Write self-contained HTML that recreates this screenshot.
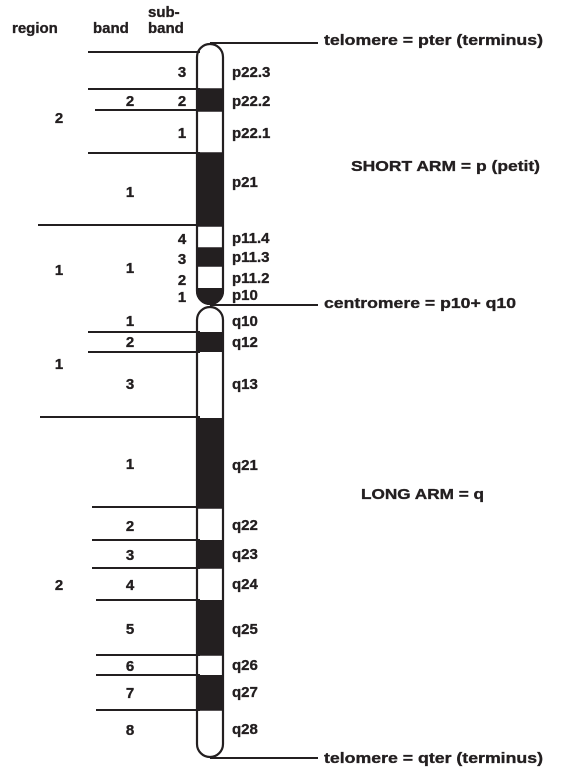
<!DOCTYPE html>
<html><head><meta charset="utf-8"><style>
html,body{margin:0;padding:0;background:#fff;width:569px;height:777px;overflow:hidden}
text{font-family:"Liberation Sans",Arial,sans-serif;font-weight:700;font-size:15px;fill:#231f20;stroke:#231f20;stroke-width:0.35}
</style></head><body>
<svg width="569" height="777" viewBox="0 0 569 777" xmlns="http://www.w3.org/2000/svg">
<defs>
<clipPath id="pc"><rect x="196" y="43" width="28" height="262" rx="14"/></clipPath>
<clipPath id="qc"><rect x="196" y="306" width="28" height="452" rx="14"/></clipPath>
</defs>
<g>
<text x="12" y="33">region</text>
<text x="93" y="33">band</text>
<text x="148" y="17">sub-</text>
<text x="148" y="33">band</text>
</g>
<g stroke="#231f20" stroke-width="2">
<line x1="88" y1="52" x2="200" y2="52"/>
<line x1="88" y1="89" x2="200" y2="89"/>
<line x1="95" y1="110" x2="200" y2="110"/>
<line x1="88" y1="153" x2="200" y2="153"/>
<line x1="38" y1="225" x2="200" y2="225"/>
<line x1="88" y1="332" x2="200" y2="332"/>
<line x1="88" y1="352" x2="200" y2="352"/>
<line x1="40" y1="417" x2="200" y2="417"/>
<line x1="92" y1="507" x2="200" y2="507"/>
<line x1="92" y1="540" x2="200" y2="540"/>
<line x1="92" y1="568" x2="200" y2="568"/>
<line x1="96" y1="600" x2="200" y2="600"/>
<line x1="96" y1="655" x2="200" y2="655"/>
<line x1="96" y1="675" x2="200" y2="675"/>
<line x1="96" y1="710" x2="200" y2="710"/>
<line x1="210" y1="43" x2="318" y2="43"/>
<line x1="210" y1="305" x2="318" y2="305"/>
<line x1="210" y1="758" x2="318" y2="758"/>
</g>
<g>
<g clip-path="url(#pc)" fill="#231f20">
<rect x="196" y="89" width="28" height="22"/>
<rect x="196" y="153" width="28" height="73"/>
<rect x="196" y="248" width="28" height="18"/>
<rect x="196" y="288" width="28" height="20"/>
</g>
<rect x="197" y="44" width="26" height="260" rx="13" fill="none" stroke="#231f20" stroke-width="2.2"/>
<path d="M196 292 Q200 304 210 305 Q220 304 224 292 Z" fill="#231f20"/>
<g stroke="#231f20" stroke-width="1.5"><line x1="197" y1="226" x2="223" y2="226"/><line x1="197" y1="248" x2="223" y2="248"/><line x1="197" y1="266" x2="223" y2="266"/><line x1="197" y1="153" x2="223" y2="153"/><line x1="197" y1="111" x2="223" y2="111"/><line x1="197" y1="89" x2="223" y2="89"/></g>
</g>
<g>
<g clip-path="url(#qc)" fill="#231f20">
<rect x="196" y="332" width="28" height="20"/>
<rect x="196" y="418" width="28" height="90"/>
<rect x="196" y="540" width="28" height="28"/>
<rect x="196" y="600" width="28" height="55"/>
<rect x="196" y="675" width="28" height="35"/>
</g>
<rect x="197" y="307" width="26" height="450" rx="13" fill="none" stroke="#231f20" stroke-width="2.2"/>
<g stroke="#231f20" stroke-width="1.5"><line x1="197" y1="508" x2="223" y2="508"/><line x1="197" y1="568" x2="223" y2="568"/><line x1="197" y1="655" x2="223" y2="655"/><line x1="197" y1="710" x2="223" y2="710"/></g>
</g>
<g>
<text x="232" y="77">p22.3</text><text x="232" y="106">p22.2</text><text x="232" y="138">p22.1</text>
<text x="232" y="187">p21</text><text x="232" y="243">p11.4</text><text x="232" y="262">p11.3</text>
<text x="232" y="283">p11.2</text><text x="232" y="300">p10</text>
<text x="232" y="326">q10</text><text x="232" y="347">q12</text><text x="232" y="389">q13</text>
<text x="232" y="470">q21</text><text x="232" y="530">q22</text><text x="232" y="559">q23</text>
<text x="232" y="589">q24</text><text x="232" y="634">q25</text><text x="232" y="670">q26</text>
<text x="232" y="697">q27</text><text x="232" y="734">q28</text>
</g>
<g text-anchor="middle">
<text x="182" y="77">3</text><text x="182" y="106">2</text><text x="182" y="138">1</text>
<text x="182" y="244">4</text><text x="182" y="264">3</text><text x="182" y="285">2</text><text x="182" y="302">1</text>
</g>
<g text-anchor="middle">
<text x="130" y="106">2</text><text x="130" y="197">1</text><text x="130" y="273">1</text>
<text x="130" y="326">1</text><text x="130" y="347">2</text><text x="130" y="389">3</text>
<text x="130" y="469">1</text><text x="130" y="531">2</text><text x="130" y="560">3</text>
<text x="130" y="590">4</text><text x="130" y="634">5</text><text x="130" y="671">6</text>
<text x="130" y="698">7</text><text x="130" y="735">8</text>
</g>
<g text-anchor="middle">
<text x="59" y="123">2</text><text x="59" y="275">1</text><text x="59" y="369">1</text><text x="59" y="590">2</text>
</g>
<g>
<text x="324" y="45" textLength="219" lengthAdjust="spacingAndGlyphs">telomere = pter (terminus)</text>
<text x="351" y="171" textLength="189" lengthAdjust="spacingAndGlyphs">SHORT ARM = p (petit)</text>
<text x="324" y="308" textLength="192" lengthAdjust="spacingAndGlyphs">centromere = p10+ q10</text>
<text x="361" y="499" textLength="123" lengthAdjust="spacingAndGlyphs">LONG ARM = q</text>
<text x="324" y="763" textLength="219" lengthAdjust="spacingAndGlyphs">telomere = qter (terminus)</text>
</g>
</svg>
</body></html>
